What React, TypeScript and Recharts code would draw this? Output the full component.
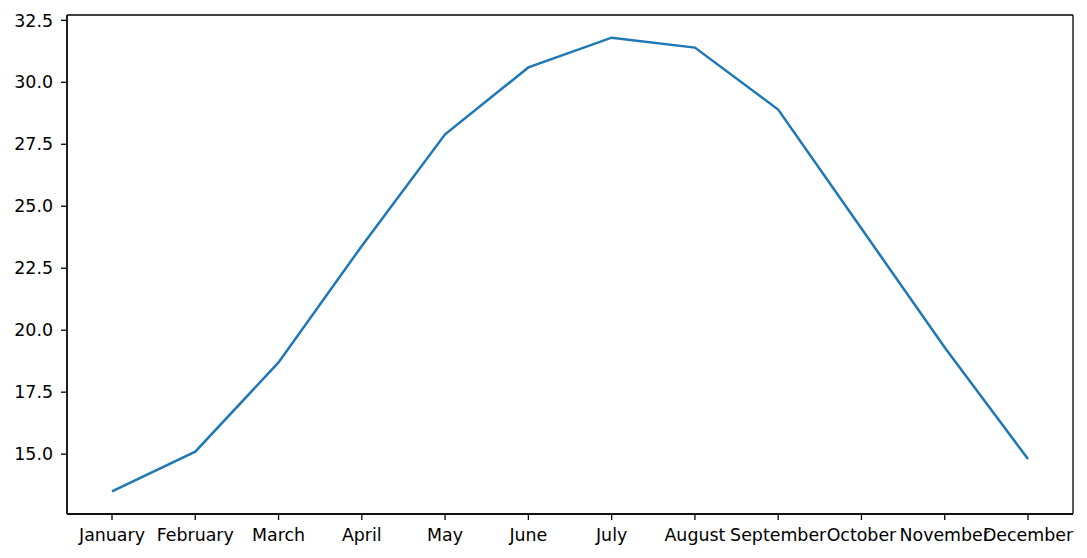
import { LineChart, Line, XAxis, YAxis, CartesianGrid } from "recharts";

const months = [
  "January", "February", "March", "April", "May", "June",
  "July", "August", "September", "October", "November", "December",
];
const temps = [13.5, 15.1, 18.7, 23.4, 27.9, 30.6, 31.8, 31.4, 28.9, 24.1, 19.3, 14.8];
const yTicks = [15, 17.5, 20, 22.5, 25, 27.5, 30, 32.5];

const data = months.map((m, i) => ({ month: m, temp: temps[i] }));

const tickStyle = { fill: "#000", fontSize: 17.4, fontFamily: "DejaVu Sans" };
const axisLine = { stroke: "#000", strokeWidth: 1.3 };

export default function App() {
  return (
    <div style={{ position: "absolute", left: 0, top: 0, background: "#fff" }}>
      <LineChart
        width={1087}
        height={558}
        data={data}
        margin={{ top: 15, right: 14, bottom: 0, left: 0 }}
      >
        {/* frame round the plot area, like matplotlib's spines */}
        <CartesianGrid
          stroke="#000"
          strokeWidth={1.3}
          horizontalCoordinatesGenerator={({ offset }: any) => [offset.top, offset.top + offset.height]}
          verticalCoordinatesGenerator={({ offset }: any) => [offset.left, offset.left + offset.width]}
        />
        <XAxis
          dataKey="month"
          height={44}
          padding={{ left: 45, right: 45 }}
          tick={tickStyle}
          axisLine={axisLine}
          tickLine={{ stroke: "#000", strokeWidth: 1.3 }}
          tickSize={6}
          tickMargin={9}
          interval={0}
        />
        <YAxis
          width={67}
          domain={[12.585, 32.715]}
          ticks={yTicks}
          allowDataOverflow
          tick={tickStyle}
          tickFormatter={(v: number) => v.toFixed(1)}
          axisLine={axisLine}
          tickLine={{ stroke: "#000", strokeWidth: 1.3 }}
          tickSize={6}
          tickMargin={8}
        />
        <Line
          type="linear"
          dataKey="temp"
          stroke="#1f77b4"
          strokeWidth={2.5}
          dot={false}
          isAnimationActive={false}
        />
      </LineChart>
    </div>
  );
}
